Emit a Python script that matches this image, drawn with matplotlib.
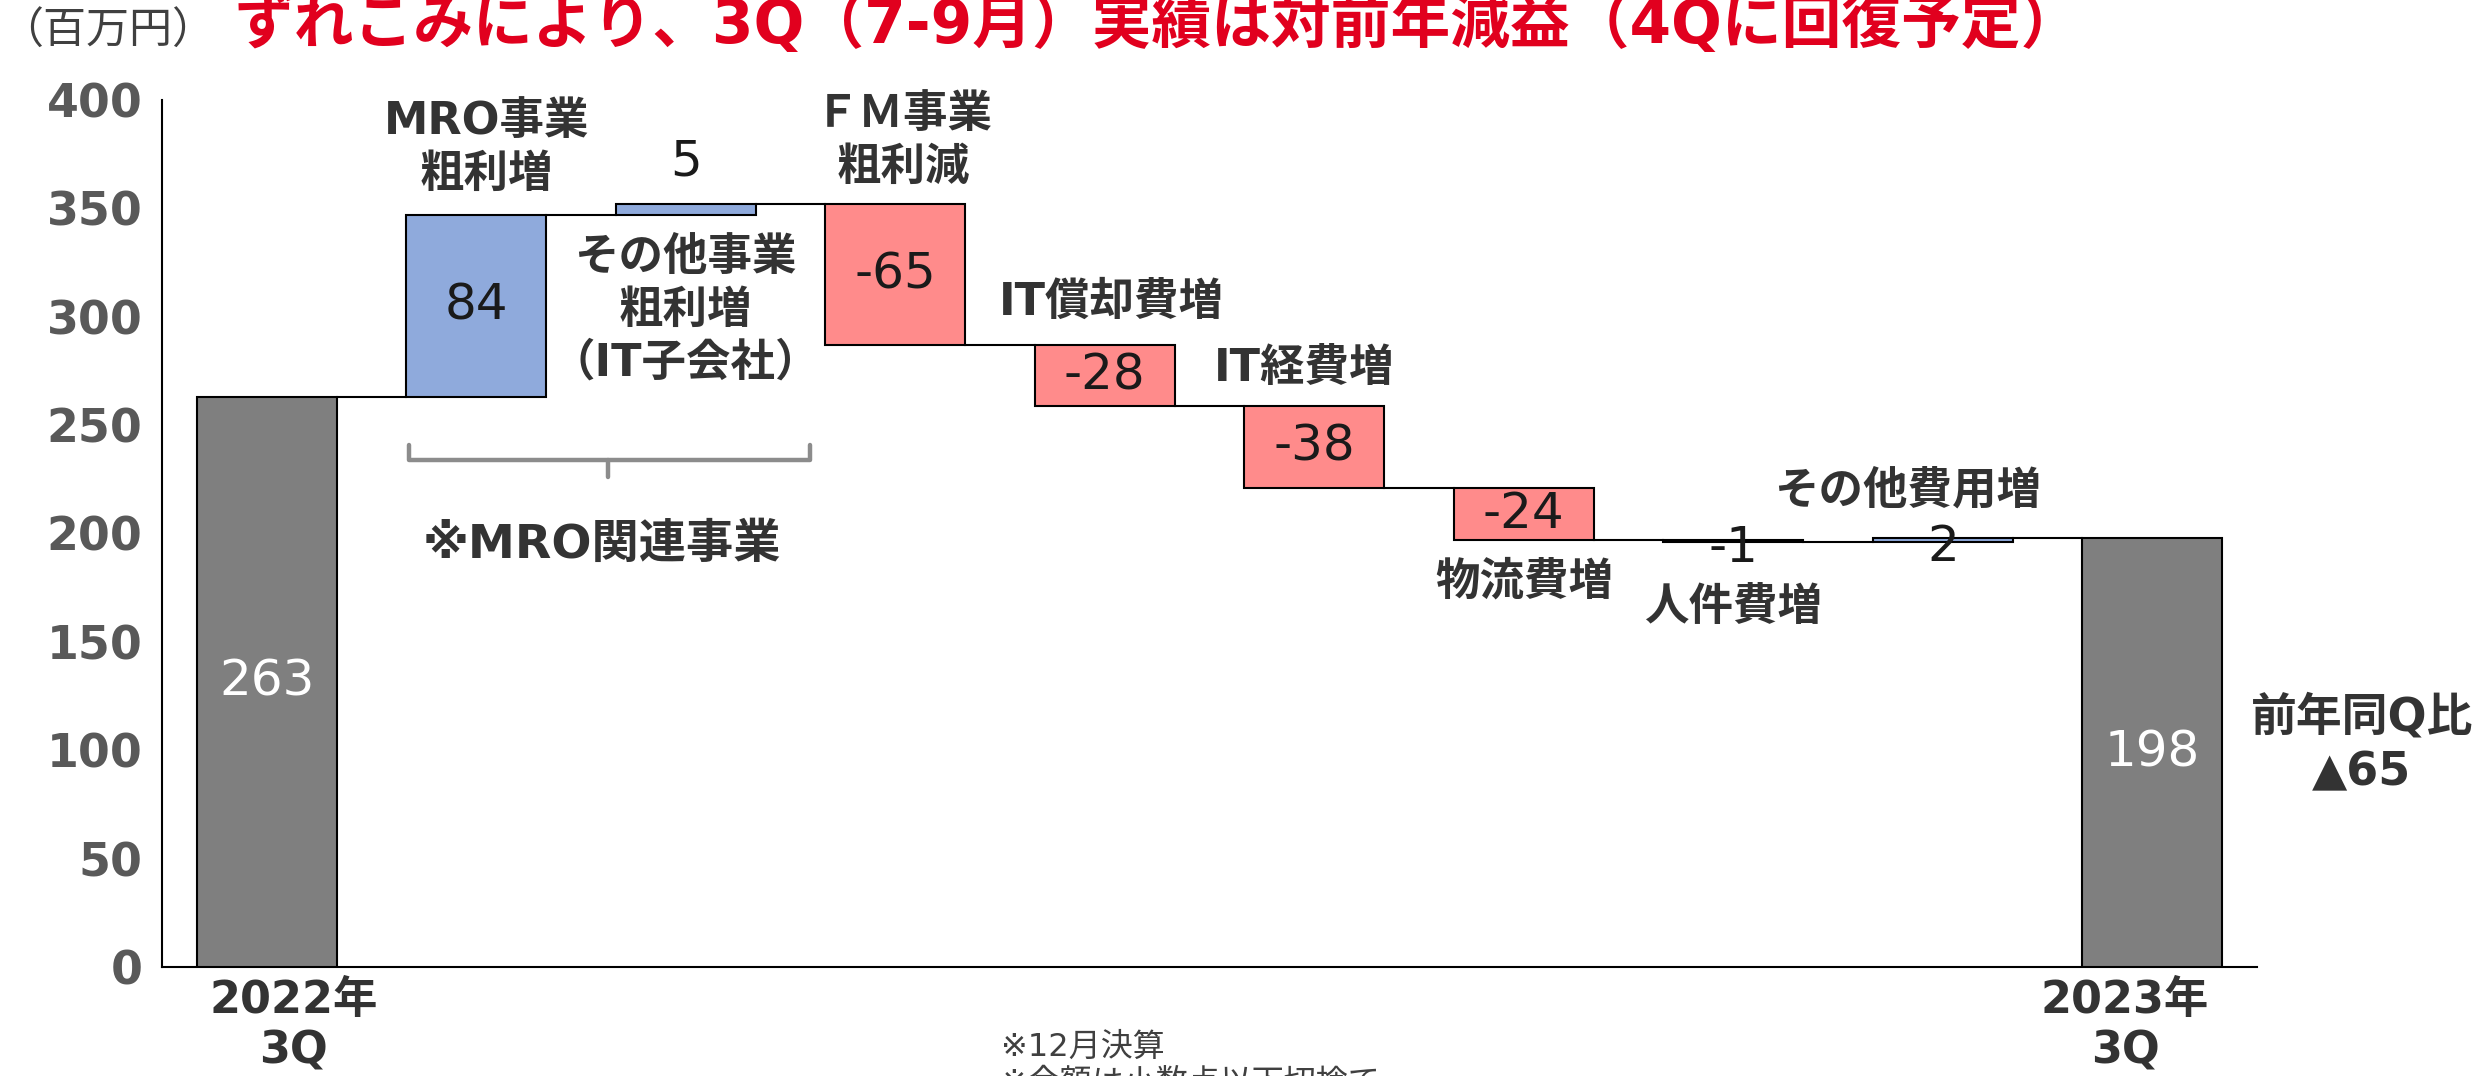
import matplotlib
matplotlib.use("Agg")
import matplotlib.pyplot as plt
import numpy as np

FAM = ['DejaVu Sans', 'Noto Sans CJK JP']
plt.rcParams['font.family'] = FAM

# ---------------- data ----------------
categories = ['2022年\n3Q', 'MRO事業\n粗利増', 'その他事業\n粗利増\n（IT子会社）', 'ＦＭ事業\n粗利減',
              'IT償却費増', 'IT経費増', '物流費増', '人件費増', 'その他費用増', '2023年\n3Q']
values = [263, 84, 5, -65, -28, -38, -24, -1, 2, 198]
kinds = ['total', 'delta', 'delta', 'delta', 'delta', 'delta', 'delta', 'delta', 'delta', 'total']
value_labels = ['263', '84', '5', '-65', '-28', '-38', '-24', '-1', '2', '198']
yticks = [0, 50, 100, 150, 200, 250, 300, 350, 400]
title = 'ずれこみにより、3Q（7-9月）実績は対前年減益（4Qに回復予定）'
unit_label = '（百万円）'
group_label = '※MRO関連事業'
summary_label = '前年同Q比\n▲65'
footnotes = ['※12月決算', '※金額は小数点以下切捨て']

# ---------------- styles ----------------
C_TOTAL = '#7F7F7F'
C_UP = '#8FAADC'
C_DOWN = '#FF8B8B'
C_TEXT = '#333333'

fig = plt.figure(figsize=(24.91, 10.76), dpi=100)
ax = fig.add_axes([0.0650, 0.1013, 0.8411, 0.8058])

x = np.arange(len(values))
bottoms, heights, colors = [], [], []
level = 0
for v, k in zip(values, kinds):
    if k == 'total':
        bottoms.append(0); heights.append(v); colors.append(C_TOTAL)
        level = v
    else:
        if v >= 0:
            bottoms.append(level); heights.append(v); colors.append(C_UP)
        else:
            bottoms.append(level + v); heights.append(-v); colors.append(C_DOWN)
        level += v

W = 0.667
ax.bar(x, heights, bottom=bottoms, width=W, color=colors, edgecolor='black', linewidth=1.5, zorder=3)

# connectors
level = 0
ends = []
for v, k in zip(values, kinds):
    level = v if k == 'total' else level + v
    ends.append(level)
for i in range(len(values) - 1):
    ax.plot([x[i] + W / 2, x[i + 1] - W / 2], [ends[i], ends[i]], color='black', lw=1.5, zorder=2)

# value labels
label_y_override = {2: 371.4, 7: 193.3, 8: 193.8}
for i, (b, h, lab, k) in enumerate(zip(bottoms, heights, value_labels, kinds)):
    col = 'white' if k == 'total' else '#1a1a1a'
    yv = label_y_override.get(i, b + h / 2)
    ax.text(x[i], yv, lab, ha='center', va='center', fontsize=36, color=col,
            family=FAM, zorder=5)

# category labels (position: dx, y in data)
cat_pos = [None, (0.05, 378), (0.0, 303), (0.04, 381), (0.03, 306.8), (-0.05, 275.9),
           (0.0, 177.6), (0.0, 166), (-0.17, 219.6), None]
for i, p in enumerate(cat_pos):
    if p is None:
        continue
    ax.text(x[i] + p[0], p[1], categories[i], ha='center', va='center', fontsize=32,
            fontweight='bold', color=C_TEXT, linespacing=1.28, family=FAM, zorder=6)

# bottom total labels
for i, dx in [(0, 0.13), (9, -0.13)]:
    ax.text(x[i] + dx, -27.2, categories[i], ha='center', va='center', fontsize=32,
            fontweight='bold', color=C_TEXT, linespacing=1.21, family=FAM, clip_on=False)

# bracket for MRO group
ax.plot([0.677, 0.677, 2.593, 2.593], [240.8, 233.9, 233.9, 240.8], color='#8C8C8C', lw=3.2,
        solid_joinstyle='round', solid_capstyle='round', zorder=4)
ax.plot([1.63, 1.63], [233.9, 226.1], color='#8C8C8C', lw=3.2, solid_capstyle='round', zorder=4)
ax.text(1.6, 194.5, group_label, ha='center', va='center', fontsize=34, fontweight='bold',
        color=C_TEXT, family=FAM)

# summary
ax.text(10.0, 102.4, summary_label, ha='center', va='center', fontsize=33, fontweight='bold',
        color=C_TEXT, linespacing=1.27, family=FAM, clip_on=False)

# axes styling
ax.set_xlim(-0.5, 9.5)
ax.set_ylim(0, 400)
ax.set_yticks(yticks)
ax.set_yticklabels([str(t) for t in yticks], fontsize=33, fontweight='bold', color='#595959')
ax.tick_params(axis='y', length=0, pad=14)
ax.set_xticks([])
for s in ['top', 'right']:
    ax.spines[s].set_visible(False)
for s in ['left', 'bottom']:
    ax.spines[s].set_color('black')
    ax.spines[s].set_linewidth(1.5)

# figure texts
fig.text(0.0, 1 - 32 / 1076, unit_label, ha='left', va='center', fontsize=31, color='#404040',
         family=FAM)
fig.text(0.0943, 1 - 43 / 1076, title, ha='left', va='baseline', fontsize=43, fontweight='bold',
         color='#E1001E', family=FAM)
fig.text(0.4019, 1 - 1047 / 1076, footnotes[0], ha='left', va='center', fontsize=23,
         color='#404040', family=FAM)
fig.text(0.4019, 1 - 1083 / 1076, footnotes[1], ha='left', va='center', fontsize=23,
         color='#404040', family=FAM)

fig.savefig('out.png', dpi=100)
